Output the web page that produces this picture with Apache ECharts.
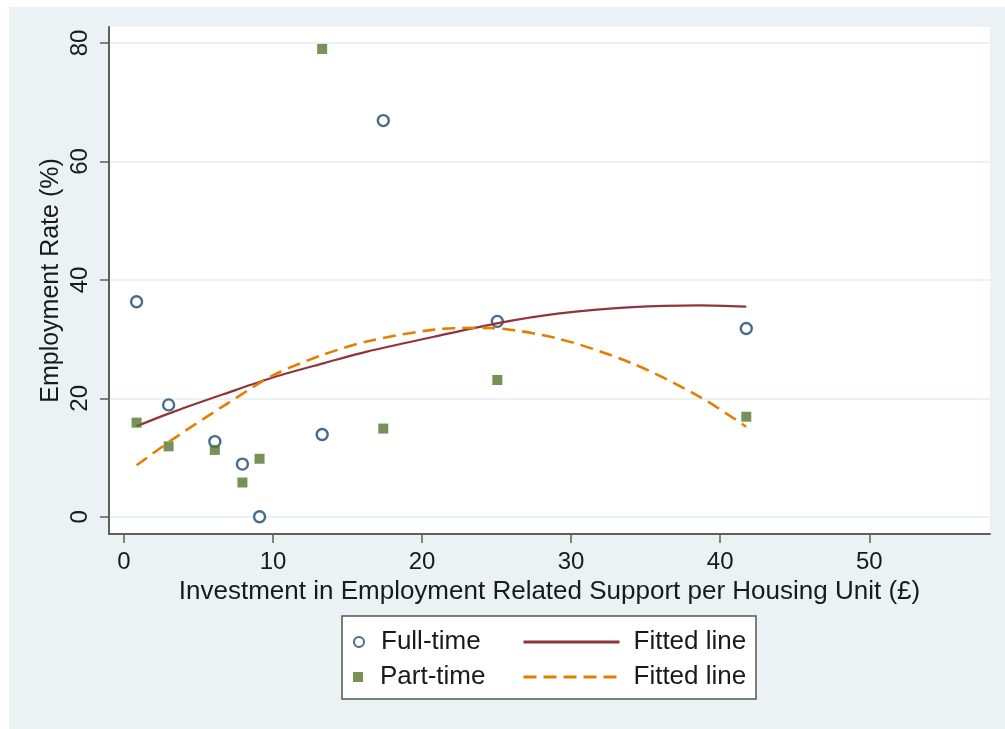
<!DOCTYPE html>
<html>
<head>
<meta charset="utf-8">
<script src="https://cdn.jsdelivr.net/npm/echarts@6/dist/echarts.min.js"></script>
<style>
  html, body { margin: 0; padding: 0; background: #ffffff; }
  #chart { width: 1005px; height: 729px; }
</style>
</head>
<body>
<div id="chart"></div>
<script>
// Investment per housing unit (£) for each scheme
const investment = [0.85, 3.0, 6.1, 7.95, 9.1, 13.3, 17.4, 25.05, 41.75];
// Employment rates (%) per scheme
const fullTime = [36.3, 18.9, 12.7, 8.9, 0.0, 13.9, 66.9, 33.0, 31.8];
const partTime = [15.9, 11.9, 11.3, 5.8, 9.8, 79.0, 14.9, 23.1, 16.9];

// Quadratic fitted curves, sampled along the investment range
const fitFullX = [0.85, 3.4, 6.8, 10.1, 13.5, 16.3, 20.8, 25.1, 29.1, 34.1, 38.6, 41.75];
const fitFullY = [15.3, 17.8, 20.8, 23.6, 26.0, 27.9, 30.4, 32.7, 34.3, 35.4, 35.7, 35.5];
const fitPartX = [0.85, 3.4, 6.8, 10.1, 13.3, 16.3, 20.8, 24.2, 29.1, 34.1, 38.6, 41.75];
const fitPartY = [8.7, 13.3, 18.9, 24.0, 27.3, 29.6, 31.6, 31.9, 30.1, 25.9, 20.3, 15.2];

// Axis ticks
const xTicks = [0, 10, 20, 30, 40, 50];
const yTicks = [0, 20, 40, 60, 80];

const NAVY = '#1a476f', MAROON = '#90353b', GREEN = '#55752f', ORANGE = '#e37e00';
const PANEL = '#eaf2f3', TEXT = '#1a1a1a', AXIS = '#5f5f5f';
const FONT = '"Liberation Sans", Arial, sans-serif';

const zip = (xs, ys) => xs.map((x, i) => [x, ys[i]]);

const chart = echarts.init(document.getElementById('chart'));

const legendText = { fontFamily: FONT, fontSize: 26, color: TEXT, lineHeight: 26 };

chart.setOption({
  animation: false,
  backgroundColor: '#ffffff',
  graphic: [
    { type: 'rect', z: -10, silent: true,
      shape: { x: 9, y: 7, width: 996, height: 722 },
      style: { fill: PANEL } },
    { type: 'rect', z: 1, silent: true,
      shape: { x: 342, y: 616, width: 414, height: 83 },
      style: { fill: '#ffffff', stroke: '#555555', lineWidth: 1.5 } }
  ],
  grid: {
    left: 109, top: 27, right: 15, bottom: 195,
    show: true, backgroundColor: '#ffffff', borderWidth: 0
  },
  xAxis: {
    type: 'value', min: -1, max: 58.1,
    name: 'Investment in Employment Related Support per Housing Unit (£)',
    nameLocation: 'middle', nameGap: 39,
    nameTextStyle: { fontFamily: FONT, fontSize: 26, color: TEXT },
    axisLine: { show: true, onZero: false, lineStyle: { color: AXIS, width: 2 } },
    axisTick: { show: true, length: 9, customValues: xTicks, lineStyle: { color: AXIS, width: 1.5 } },
    axisLabel: { customValues: xTicks, margin: 16, fontFamily: FONT, fontSize: 24, color: TEXT },
    splitLine: { show: false }
  },
  yAxis: {
    type: 'value', min: -2.9, max: 82.7,
    name: 'Employment Rate (%)',
    nameLocation: 'middle', nameGap: 45, nameMoveOverlap: false,
    nameTextStyle: { fontFamily: FONT, fontSize: 25, color: TEXT },
    axisLine: { show: true, onZero: false, lineStyle: { color: AXIS, width: 2 } },
    axisTick: { show: true, length: 9, customValues: yTicks, lineStyle: { color: AXIS, width: 1.5 } },
    axisLabel: { customValues: yTicks, rotate: 90, margin: 17, fontFamily: FONT, fontSize: 24, color: TEXT },
    splitLine: { show: true, lineStyle: { color: PANEL, width: 2 } }
  },
  legend: [
    { data: ['Full-time'], left: 348, top: 624, orient: 'vertical',
      itemWidth: 10, itemHeight: 10, textStyle: Object.assign({ padding: [0, 0, 0, 12] }, legendText) },
    { data: ['Part-time'], left: 348, top: 659, orient: 'vertical',
      itemWidth: 10, itemHeight: 10, textStyle: Object.assign({ padding: [0, 0, 0, 12] }, legendText) },
    { data: ['Full-time fit'], left: 517, top: 624, formatter: 'Fitted line',
      itemWidth: 96, itemHeight: 14, itemStyle: { opacity: 0 }, lineStyle: { width: 3 },
      textStyle: Object.assign({ padding: [0, 0, 0, 9] }, legendText) },
    { data: ['Part-time fit'], left: 517, top: 659, formatter: 'Fitted line',
      itemWidth: 96, itemHeight: 14, itemStyle: { opacity: 0 }, lineStyle: { width: 3 },
      textStyle: Object.assign({ padding: [0, 0, 0, 9] }, legendText) }
  ],
  series: [
    {
      name: 'Full-time', type: 'scatter', z: 3,
      data: zip(investment, fullTime),
      symbol: 'circle', symbolSize: 11,
      itemStyle: { color: '#ffffff', borderColor: NAVY, borderWidth: 2.4 }
    },
    {
      name: 'Full-time fit', type: 'line', z: 4,
      data: zip(fitFullX, fitFullY),
      smooth: 0.3, symbol: 'none', showSymbol: false,
      lineStyle: { color: MAROON, width: 2.2 },
      itemStyle: { color: MAROON }
    },
    {
      name: 'Part-time', type: 'scatter', z: 5,
      data: zip(investment, partTime),
      symbol: 'rect', symbolSize: 10,
      itemStyle: { color: GREEN }
    },
    {
      name: 'Part-time fit', type: 'line', z: 6,
      data: zip(fitPartX, fitPartY),
      smooth: 0.3, symbol: 'none', showSymbol: false,
      lineStyle: { color: ORANGE, width: 2.6, type: [13, 7] },
      itemStyle: { color: ORANGE }
    }
  ]
});
</script>
</body>
</html>
